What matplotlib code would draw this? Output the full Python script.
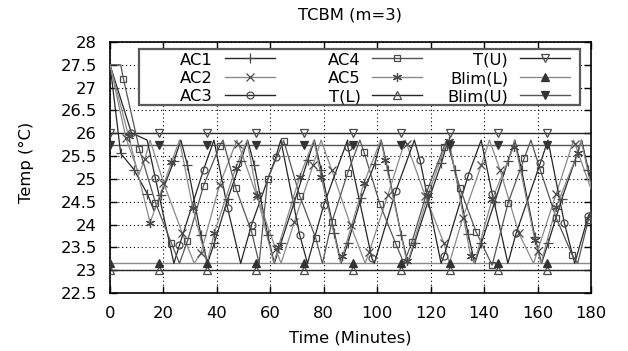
import matplotlib
matplotlib.use("Agg")
import matplotlib.pyplot as plt
from matplotlib.lines import Line2D
from matplotlib.patches import Rectangle

title = "TCBM (m=3)"
xlabel = "Time (Minutes)"
ylabel = "Temp (°C)"

# ---- AC series: (time [min], temperature [°C]) ----
ac1_t = [0, 4, 9, 14, 16.5, 19, 24, 26.5, 29, 34, 36.5, 39, 44, 49, 51.5, 54, 59, 61.5, 64, 69,
         74, 76.5, 79, 84, 86.5, 89, 94, 99, 101.5, 104, 109, 111.5, 114, 119, 124, 126.5, 129,
         134, 136.5, 139, 144, 149, 151.5, 154, 159, 161.5, 164, 169, 174, 176.5, 179, 180]
ac1_y = [27.5, 25.56, 25.2, 24.67, 24.3, 24.65, 25.4, 25.85, 25.3, 23.77, 23.15, 23.59, 24.55, 25.4,
         25.85, 25.3, 23.77, 23.15, 23.6, 24.5, 25.41, 25.85, 25.2, 23.81, 23.15, 23.59, 24.58,
         25.32, 25.85, 25.2, 23.77, 23.15, 23.6, 24.5, 25.34, 25.85, 25.2, 23.8, 23.15, 23.6,
         24.5, 25.4, 25.85, 25.2, 23.73, 23.15, 23.6, 24.55, 25.4, 25.85, 25.2, 24.95]

ac2_t = [0, 6, 10.8, 13, 15, 20, 27, 31.5, 34, 41, 47.5, 48, 55, 62, 64, 69, 76, 79, 83, 90, 95.5,
         97, 104, 110.5, 111, 118, 125, 127, 132, 139, 142, 146, 153, 158.5, 160, 167, 173.5, 174, 180]
ac2_y = [27.5, 25.89, 25.1, 25.43, 25.85, 24.92, 23.82, 23.15, 23.37, 24.87, 25.85, 25.77, 24.62,
         23.47, 23.15, 24.06, 25.3, 25.85, 25.19, 23.99, 23.15, 23.4, 24.65, 25.85, 25.77, 24.62,
         23.59, 23.15, 24.14, 25.31, 25.85, 25.19, 23.81, 23.15, 23.42, 24.68, 25.85, 25.77, 24.78]

ac3_t = [0, 8, 13.9, 17, 23.9, 26, 35, 38.9, 44, 48.9, 53, 62, 63.9, 71, 73.9, 80, 88.9, 89, 98,
         98.9, 107, 113.9, 116, 123.9, 125, 134, 138.9, 143, 148.9, 152, 161, 163.9, 170, 173.9, 179, 180]
ac3_y = [27.5, 26.01, 25.85, 25.01, 23.15, 23.55, 25.2, 25.85, 24.36, 23.15, 24.0, 25.47, 25.85,
         23.77, 23.15, 24.43, 25.85, 25.71, 23.26, 23.15, 24.74, 25.85, 25.41, 23.15, 23.32, 25.07,
         25.85, 24.68, 23.15, 23.81, 25.34, 25.85, 24.04, 23.15, 24.19, 24.3]

ac4_t = [0, 4, 5, 11, 17, 23, 26, 29, 35, 41, 42.3, 47, 53, 55.8, 59, 65, 71, 77, 79.5, 83, 89, 93.5,
         95, 101, 107, 110, 113, 119, 125, 126, 131, 137, 143, 149, 155, 157.5, 161, 167, 173, 175,
         179, 180]
ac4_y = [27.5, 27.5, 27.2, 25.65, 24.48, 23.59, 23.15, 23.64, 24.85, 25.72, 25.85, 24.81, 23.84,
         23.15, 25.0, 25.84, 24.63, 23.7, 23.15, 24.05, 25.14, 25.85, 25.6, 24.45, 23.57, 23.15,
         23.62, 24.79, 25.71, 25.85, 24.79, 23.84, 23.11, 24.48, 25.45, 25.85, 25.2, 24.14, 23.33,
         23.15, 24.1, 24.3]

ac5_t = [0, 7, 15, 23, 26, 31, 36.3, 39, 47, 51.3, 55, 61.3, 63, 71, 76.3, 79, 86.3, 87, 95, 101.3,
         103, 111, 111.3, 119, 126.3, 127, 135, 136.3, 143, 151, 151.3, 159, 161.3, 167, 175, 176.3, 180]
ac5_y = [27.5, 25.93, 24.04, 25.36, 25.85, 24.36, 23.15, 23.81, 25.23, 25.85, 24.65, 23.15, 23.51,
         25.05, 25.85, 25.05, 23.15, 23.3, 24.9, 25.85, 25.41, 23.2, 23.15, 24.65, 25.85, 25.82,
         23.3, 23.15, 24.55, 25.69, 25.85, 23.66, 23.15, 24.39, 25.56, 25.85, 24.85]

# point interval of the symbols on each AC curve (minutes)
ac_point_step = [5, 7, 9, 6, 8]

# ---- bound lines ----
bound_t = [0, 18.15, 36.3, 54.45, 72.6, 90.75, 108.9, 127.05, 145.3, 163.6, 180]
t_low = 23.0
t_up = 26.0
blim_low = 23.16
blim_up = 25.75

W, H = 628, 351
fig = plt.figure(figsize=(W / 100, H / 100), dpi=100)
L, R, T, B = 110, 591, 42, 293
ax = fig.add_axes([L / W, 1 - B / H, (R - L) / W, (B - T) / H])

FS = 11.8
dark = "#262626"
mid = "#555555"
gray = "#8a8a8a"
mk = "#4a4a4a"

series = [
    ("AC1", ac1_t, ac1_y, "+", dark, 6.5),
    ("AC2", ac2_t, ac2_y, "x", gray, 5.5),
    ("AC3", ac3_t, ac3_y, "o", dark, 5),
    ("AC4", ac4_t, ac4_y, "s", mid, 5),
    ("AC5", ac5_t, ac5_y, (6, 2, 0), gray, 6.5),
]
leg_entries = []
for (name, t, y, m, c, ms), n in zip(series, ac_point_step):
    every = [i for i, tv in enumerate(t) if abs(((tv + 1) / n) - round((tv + 1) / n)) < 1e-6 and tv > 0]
    ax.plot(t, y, color=c, lw=0.9, zorder=3)
    ax.plot([t[i] for i in every], [y[i] for i in every], ls="none", marker=m, ms=ms,
            mfc="none", mec=mk, mew=0.9, zorder=4)
    leg_entries.append((name, c, m, ms, "none"))

consts = [
    ("T(L)", t_low, "^", dark, "none", mk),
    ("T(U)", t_up, "v", dark, "none", mk),
    ("Blim(L)", blim_low, "^", gray, "#333333", "#333333"),
    ("Blim(U)", blim_up, "v", mid, "#333333", "#333333"),
]
for name, lvl, m, c, fc, ec in consts:
    ax.plot(bound_t, [lvl] * len(bound_t), color=c, lw=1.0, zorder=2)
    ax.plot(bound_t[:-1], [lvl] * (len(bound_t) - 1), ls="none", marker=m, ms=5.2, mfc=fc,
            mec=ec, mew=0.9, zorder=4)
    leg_entries.append((name, c, m, 5.2, fc))

ax.set_xlim(0, 180)
ax.set_ylim(22.5, 28)
ax.set_xticks(range(0, 181, 20))
yt = [22.5 + 0.5 * i for i in range(12)]
ax.set_yticks(yt)
ax.set_yticklabels(["22.5", "23", "23.5", "24", "24.5", "25", "25.5", "26", "26.5", "27", "27.5", "28"])
ax.grid(True, color="black", ls=(0, (1, 2.5)), lw=0.8, zorder=0)
ax.set_axisbelow(True)
ax.tick_params(direction="in", top=True, right=True, length=5, width=1, labelsize=FS, pad=9.5)
for s in ax.spines.values():
    s.set_linewidth(1.2)

# ---- legend drawn in figure pixel positions (gnuplot style) ----
def fx(px):
    return px / W

def fy(py):
    return 1 - py / H

fig.add_artist(Rectangle((fx(138.5), fy(105)), fx(580) - fx(138.5), fy(48.5) - fy(105),
                         transform=fig.transFigure, facecolor="white", edgecolor="#5a5a5a",
                         lw=1.6, zorder=10))
col_text_right = [213, 361, 508]
col_line = [(225, 275), (372, 422), (520, 570)]
row_mid = [58.3, 76.7, 95.0]
for k, (name, c, m, ms, fc) in enumerate(leg_entries):
    col, row = divmod(k, 3)
    yy = row_mid[row]
    fig.text(fx(col_text_right[col]), fy(yy + 6.3), name, ha="right", va="baseline",
             fontsize=FS, zorder=11)
    x0, x1 = col_line[col]
    fig.add_artist(Line2D([fx(x0), fx(x1)], [fy(yy), fy(yy)], transform=fig.transFigure,
                          color=c, lw=1.0, zorder=11))
    ec = mk if fc == "none" else fc
    fig.add_artist(Line2D([fx((x0 + x1) / 2)], [fy(yy)], transform=fig.transFigure, ls="none",
                          marker=m, ms=ms, mfc=fc, mec=ec, mew=0.9, zorder=12))

ax.set_title(title, fontsize=FS, pad=16.5)
ax.set_xlabel(xlabel, fontsize=FS)
ax.set_ylabel(ylabel, fontsize=FS)
ax.xaxis.set_label_coords(0.5, -0.151)
ax.yaxis.set_label_coords(-0.158, 0.52)

fig.savefig("out.png", dpi=100)
